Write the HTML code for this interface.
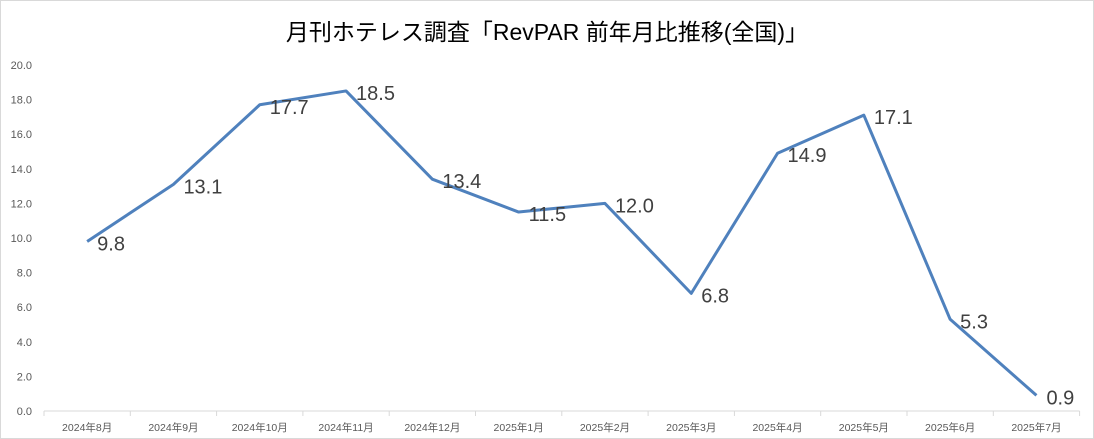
<!DOCTYPE html>
<html><head><meta charset="utf-8"><style>
body{margin:0;background:#fff;}
svg{display:block;font-family:"Liberation Sans","Noto Sans CJK JP",sans-serif;}
</style></head><body>
<svg width="1094" height="439">
<rect x="0.5" y="0.5" width="1093" height="438" fill="#fff" stroke="#d9d9d9"/>
<text x="547" y="40" text-anchor="middle" font-size="23" fill="#000">月刊ホテレス調査「RevPAR 前年月比推移(全国)」</text>
<g id="yaxis"></g>
<g id="xaxis"></g>
<g id="series"></g>
</svg>
<script>
const categories=["2024年8月","2024年9月","2024年10月","2024年11月","2024年12月","2025年1月","2025年2月","2025年3月","2025年4月","2025年5月","2025年6月","2025年7月"];
const values=[9.8,13.1,17.7,18.5,13.4,11.5,12.0,6.8,14.9,17.1,5.3,0.9];
const yTicks=[0,2,4,6,8,10,12,14,16,18,20];
const NS="http://www.w3.org/2000/svg";
const left=44,catW=86.3,y0=411,yTop=65,yMax=20;
const xs=i=>left+catW*(i+0.5);
const ys=v=>y0-(v/yMax)*(y0-yTop);
function mk(tag,attrs,parent,text){const e=document.createElementNS(NS,tag);for(const k in attrs)e.setAttribute(k,attrs[k]);if(text!==undefined)e.textContent=text;parent.appendChild(e);return e;}
const ya=document.getElementById('yaxis'),xa=document.getElementById('xaxis'),sg=document.getElementById('series');
yTicks.forEach(t=>{const e=mk('text',{x:32,y:ys(t)+4,'text-anchor':'end','font-size':11,fill:'#595959'},ya,t.toFixed(1));

});
const ax=mk('line',{x1:left,x2:left+catW*12,y1:y0,y2:y0,stroke:'#d9d9d9','stroke-width':1},xa);


for(let i=0;i<=12;i++){const t=mk('line',{x1:left+catW*i,x2:left+catW*i,y1:y0,y2:y0+5,stroke:'#d9d9d9'},xa);

}
categories.forEach((c,i)=>{const e=mk('text',{x:xs(i),y:431,'text-anchor':'middle','font-size':10.5,fill:'#595959'},xa,c);

});
const pl=mk('polyline',{points:values.map((v,i)=>xs(i)+','+ys(v)).join(' '),fill:'none',stroke:'#4f81bd','stroke-width':3,'stroke-linejoin':'round'},sg);


values.forEach((v,i)=>{const e=mk('text',{x:xs(i)+10,y:ys(v)+9,'font-size':20,fill:'#404040'},sg,v.toFixed(1));

});
</script>
</body></html>
